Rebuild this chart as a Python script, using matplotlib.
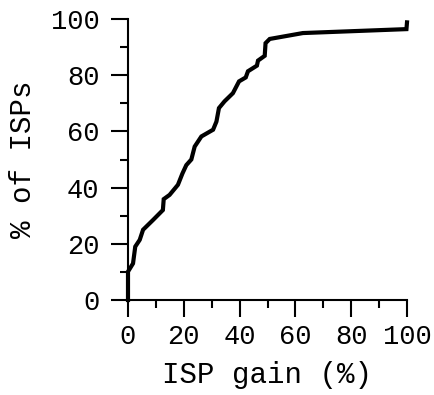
import matplotlib
matplotlib.use('Agg')
import matplotlib.pyplot as plt
from matplotlib.ticker import MultipleLocator

# ISP gain (%) vs cumulative % of ISPs
gain = [0, 0, 1.8, 2.6, 4.2, 5.4, 9.0, 12.5, 12.8, 14.9, 17.9, 19.5, 20.9,
        22.7, 23.9, 26.3, 30.5, 31.7, 32.6, 34.6, 37.6, 39.8, 42.2, 43.0,
        46.2, 46.6, 49.0, 49.3, 50.8, 62.7, 99.8, 100]
pct_isps = [0, 10.1, 13, 19, 21.4, 25, 28.5, 32, 35.9, 37.4, 41, 45, 48,
            50, 54.6, 58.2, 60.6, 63.5, 68.3, 70.7, 73.6, 77.8, 79.2, 81.4,
            83.4, 85.2, 86.9, 91.4, 92.9, 95, 96.4, 98.8]

plt.rcParams['font.family'] = ['Liberation Mono', 'DejaVu Sans Mono']

fig = plt.figure(figsize=(4.35, 3.95), dpi=100)
ax = fig.add_axes([128 / 435, 95 / 395, 279 / 435, 281 / 395])

ax.plot(gain, pct_isps, color='black', linewidth=3, solid_joinstyle='miter',
        clip_on=False)

ax.set_xlim(0, 100)
ax.set_ylim(0, 100)
ax.xaxis.set_major_locator(MultipleLocator(20))
ax.xaxis.set_minor_locator(MultipleLocator(10))
ax.yaxis.set_major_locator(MultipleLocator(20))
ax.yaxis.set_minor_locator(MultipleLocator(10))

for s in ['top', 'right']:
    ax.spines[s].set_visible(False)
for s in ['left', 'bottom']:
    ax.spines[s].set_linewidth(1.5)

ax.tick_params(which='major', direction='out', length=12.5, width=1.5,
               labelsize=19.5)
ax.tick_params(axis='x', which='major', pad=5)
ax.tick_params(axis='y', which='major', pad=8)
ax.tick_params(which='minor', direction='out', length=5.5, width=1.5)

ax.set_xlabel('ISP gain (%)', fontsize=21, labelpad=8)
ax.set_ylabel('% of ISPs', fontsize=21, labelpad=10)

fig.savefig('out.png', dpi=100)
